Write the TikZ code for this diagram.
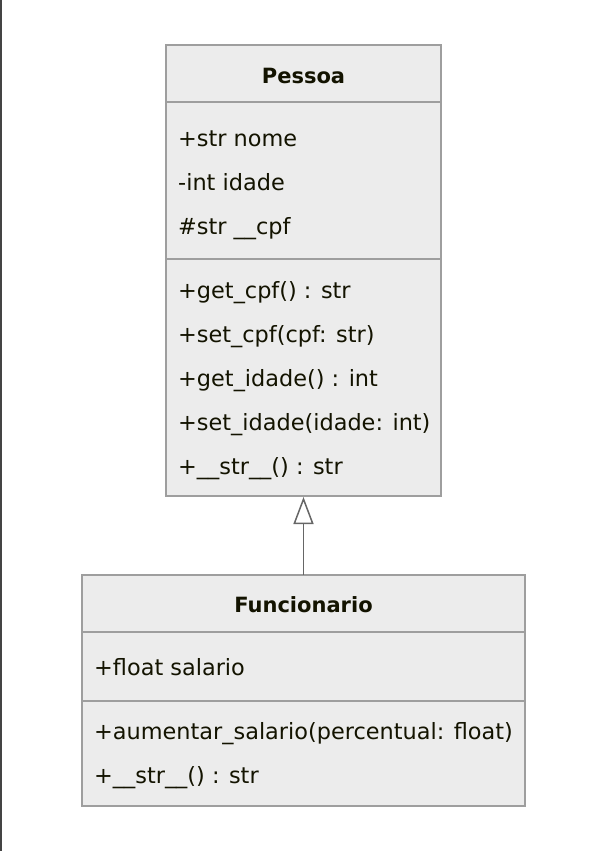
\documentclass[tikz,border=0pt]{standalone}
\usepackage{fontspec}
\setmainfont{DejaVu Sans}
\usetikzlibrary{arrows.meta}
\definecolor{boxfill}{HTML}{ECECEC}
\definecolor{boxline}{HTML}{9E9E9E}
\definecolor{txt}{HTML}{131300}
\definecolor{edge}{HTML}{444444}
\definecolor{arrowline}{HTML}{666666}
\tikzset{
  classbox/.style={draw=boxline, fill=boxfill, line width=1.6pt},
  divider/.style={draw=boxline, line width=1.6pt},
  member/.style={anchor=base west, inner sep=0pt, text=txt, font=\fontsize{22.4}{26}\selectfont},
  title/.style={anchor=base, inner sep=0pt, text=txt, font=\fontsize{21}{25}\selectfont\bfseries},
  inherit/.style={draw=arrowline, line width=1.5pt, -{Triangle[open, length=27pt, width=20pt, fill=white]}}
}
\begin{document}
\begin{tikzpicture}[x=1pt, y=-1pt]
\useasboundingbox (0,0) rectangle (604,851);
\fill[edge] (0,0) rectangle (2,851);
% Pessoa
\draw[classbox] (166,45) rectangle (441,496);
\draw[divider] (166,102) -- (441,102);
\draw[divider] (166,259) -- (441,259);
\node[title] (pt) at (303.5,83) {Pessoa};
\node[member] (pa1) at (178,146) {+str nome};
\node[member] (pa2) at (178,190) {-int idade};
\node[member] (pa3) at (178,234) {\#str \_\_cpf};
\node[member] (pm1) at (178,298) {+get\_cpf() : str};
\node[member] (pm2) at (178,342) {+set\_cpf(cpf: str)};
\node[member] (pm3) at (178,386) {+get\_idade() : int};
\node[member] (pm4) at (178,430) {+set\_idade(idade: int)};
\node[member] (pm5) at (178,474) {+\_\_str\_\_() : str};
\coordinate (pbot) at (303.5,497);
% Funcionario
\draw[classbox] (82,575) rectangle (525,806);
\draw[divider] (82,632) -- (525,632);
\draw[divider] (82,701) -- (525,701);
\node[title] (ft) at (303.5,612) {Funcionario};
\node[member] (fa1) at (94,675) {+float salario};
\node[member] (fm1) at (94,739) {+aumentar\_salario(percentual: float)};
\node[member] (fm2) at (94,783) {+\_\_str\_\_() : str};
\coordinate (ftop) at (303.5,575);
\draw[inherit] (ftop) -- (pbot);
\end{tikzpicture}
\end{document}
